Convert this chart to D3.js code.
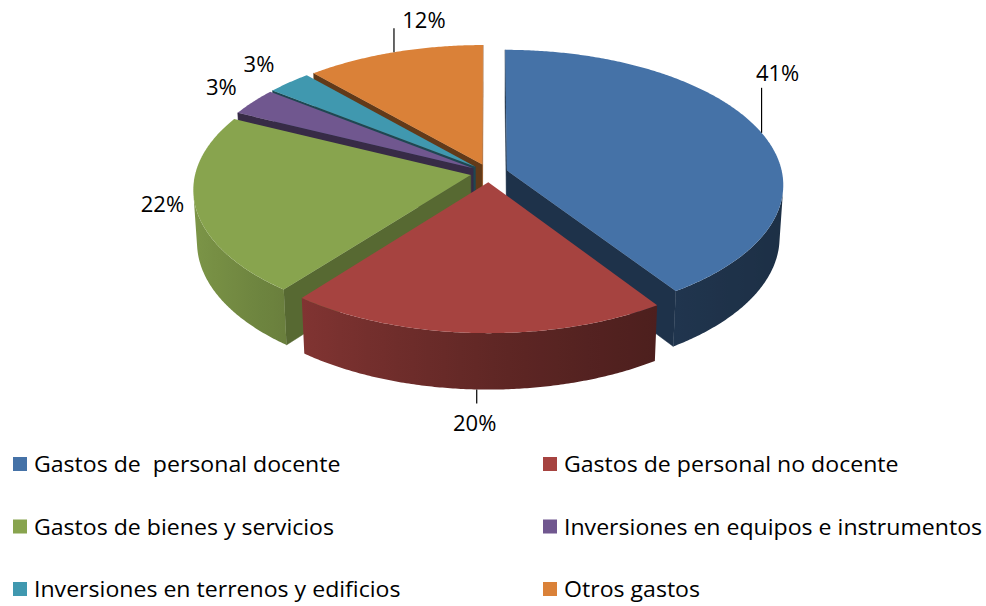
<!DOCTYPE html>
<html>
<head>
<meta charset="utf-8">
<script src="https://cdn.jsdelivr.net/npm/d3@7"></script>
<style>
  body { margin: 0; background: #fff; }
  text { font-family: "Open Sans", sans-serif; fill: #000; white-space: pre; }
</style>
</head>
<body>
<svg id="chart"></svg>
<script>
const categories = [
  "Gastos de  personal docente",
  "Gastos de personal no docente",
  "Gastos de bienes y servicios",
  "Inversiones en equipos e instrumentos",
  "Inversiones en terrenos y edificios",
  "Otros gastos"
];
const values = [40.6, 20.0, 21.6, 3.3, 2.9, 11.6];
const colors = ["#4572A7", "#A64340", "#88A44E", "#70578F", "#4098AF", "#DA8138"];

// leader lines for the labels that were dragged away from the pie
const leaderLen = [45, 14, 0, 0, 0, 24];
const leaderShift = [16, -2, 0, 0, 0, 30];
const leaderGap = [7, 19, 0, 0, 0, 0];

const width = 986, height = 606;

// simple perspective camera looking down on the pie
const cx = 489, cy = 173, dist = 8.5, focal = 2340;
const tilt = 29 * Math.PI / 180, sT = Math.sin(tilt), cT = Math.cos(tilt);
const thick = 0.22, explode = 0.068;
const cam = [0, dist * sT, -dist * cT];

function proj(x, y, z) {
  const yv = y * cT + z * sT;
  const d = dist + z * cT - y * sT;
  return [cx + focal * x / d, cy - focal * yv / d];
}

function shade(c, k) {
  const r = d3.rgb(c);
  return d3.rgb(r.r * k, r.g * k, r.b * k).formatHex();
}

const svg = d3.select("#chart")
    .attr("width", width)
    .attr("height", height);
const defs = svg.append("defs");

const pie = d3.pie().sort(null).value(d => d);
const arcs = pie(values).map((a, i) => {
  const mid = (a.startAngle + a.endAngle) / 2;
  return Object.assign(a, {
    i, mid,
    ox: explode * Math.sin(mid),
    oz: explode * Math.cos(mid)
  });
});

const line = d3.line();
const step = Math.PI / 360;

function edge(a, t, y) {
  return proj(a.ox + Math.sin(t), y, a.oz + Math.cos(t));
}
function apex(a, y) {
  return proj(a.ox, y, a.oz);
}
function facing(p, n) {
  return n[0] * (cam[0] - p[0]) + n[1] * (cam[1] - p[1]) + n[2] * (cam[2] - p[2]) > 0;
}
function wallShade(t) {
  return 0.42 + 0.5 * Math.pow((1 + Math.cos(t - 1.5 * Math.PI)) / 2, 1.6);
}

// back slices first
const order = arcs.slice().sort((a, b) => Math.cos(b.mid) - Math.cos(a.mid));

const g = svg.append("g");

order.forEach(a => {
  const slice = g.append("g");
  const col = colors[a.i];

  // radial cut faces
  [[a.startAngle, -1], [a.endAngle, 1]].forEach(([t, sgn]) => {
    const n = [sgn * Math.cos(t), 0, -sgn * Math.sin(t)];
    if (!facing([a.ox, -thick / 2, a.oz], n)) return;
    const phi = Math.atan2(n[0], n[2]);
    const k = 0.42 + 0.25 * (1 + Math.cos(phi - Math.PI / 2)) / 2;
    const pts = [apex(a, 0), edge(a, t, 0), edge(a, t, -thick), apex(a, -thick)];
    slice.append("path")
        .attr("d", line(pts) + "Z")
        .attr("fill", shade(col, k))
        .attr("stroke", shade(col, k))
        .attr("stroke-width", 0.5);
  });

  // outer wall: the part that faces the camera
  const vis = d3.range(a.startAngle, a.endAngle, step).concat([a.endAngle])
    .filter(t => facing([a.ox + Math.sin(t), -thick / 2, a.oz + Math.cos(t)], [Math.sin(t), 0, Math.cos(t)]));
  if (vis.length > 1) {
    const topEdge = vis.map(t => edge(a, t, 0));
    const botEdge = vis.map(t => edge(a, t, -thick)).reverse();
    const x1 = topEdge[0][0], x2 = topEdge[topEdge.length - 1][0];
    const grad = defs.append("linearGradient")
        .attr("id", "wall" + a.i)
        .attr("gradientUnits", "userSpaceOnUse")
        .attr("x1", x1).attr("x2", x2)
        .attr("y1", 0).attr("y2", 0);
    vis.filter((t, j) => j % 6 === 0 || j === vis.length - 1).forEach(t => {
      grad.append("stop")
          .attr("offset", (edge(a, t, 0)[0] - x1) / (x2 - x1))
          .attr("stop-color", shade(col, wallShade(t)));
    });
    slice.append("path")
        .attr("d", line(topEdge.concat(botEdge)) + "Z")
        .attr("fill", `url(#wall${a.i})`);
  }

  // top face
  const top = [apex(a, 0)];
  d3.range(a.startAngle, a.endAngle, step).forEach(t => top.push(edge(a, t, 0)));
  top.push(edge(a, a.endAngle, 0));
  slice.append("path")
      .attr("d", line(top) + "Z")
      .attr("fill", col)
      .append("title")
      .text(`${categories[a.i]}: ${values[a.i]}`);
});

// data labels
const pct = d3.format(".0%");
const total = d3.sum(values);
const labels = svg.append("g").attr("font-size", 22);

arcs.forEach(a => {
  const front = Math.cos(a.mid) < -0.5;
  const p = edge(a, a.mid, front ? -thick : 0);
  const txt = pct(values[a.i] / total);
  const L = leaderLen[a.i];
  if (L > 0) {
    const up = p[1] < cy;
    const y2 = up ? p[1] - L : p[1] + L;
    labels.append("line")
        .attr("x1", p[0]).attr("y1", p[1])
        .attr("x2", p[0]).attr("y2", y2)
        .attr("stroke", "#000")
        .attr("stroke-width", 1.2);
    labels.append("text")
        .attr("x", p[0] + leaderShift[a.i])
        .attr("y", up ? y2 - leaderGap[a.i] : y2 + leaderGap[a.i])
        .attr("text-anchor", "middle")
        .attr("dominant-baseline", up ? "auto" : "central")
        .text(txt);
  } else {
    const dx = p[0] - cx, dy = p[1] - cy, len = Math.hypot(dx, dy);
    labels.append("text")
        .attr("x", p[0] + dx / len * 33)
        .attr("y", p[1] + dy / len * 33 - 6)
        .attr("text-anchor", "middle")
        .attr("dominant-baseline", "central")
        .text(txt);
  }
});

// legend, two columns
const legend = svg.append("g")
  .selectAll("g")
  .data(categories)
  .join("g")
    .attr("transform", (d, i) => `translate(${13 + (i % 2) * 530},${472 + Math.floor(i / 2) * 62.5})`);

legend.append("rect")
    .attr("x", 0).attr("y", -15)
    .attr("width", 14).attr("height", 14)
    .attr("fill", (d, i) => colors[i]);

legend.append("text")
    .attr("transform", "translate(21,0) scale(1.05,1)")
    .attr("font-size", 22)
    .text(d => d);
</script>
</body>
</html>
